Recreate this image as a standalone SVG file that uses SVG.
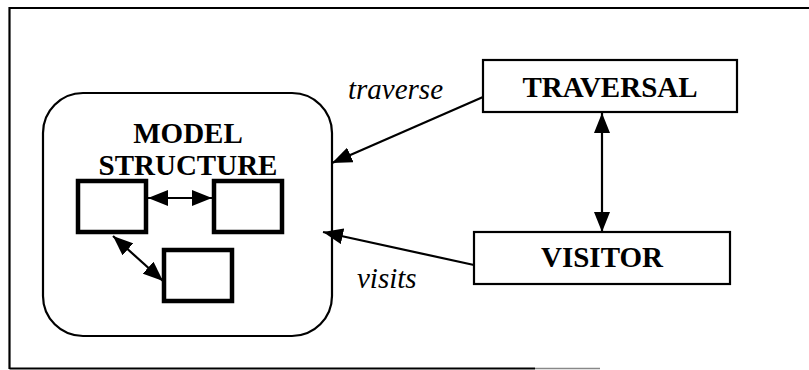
<svg xmlns="http://www.w3.org/2000/svg" width="809" height="370" viewBox="0 0 809 370">
<defs>
<style>
.box{fill:#fff;stroke:#000;stroke-width:2.2}
.small{fill:#fff;stroke:#000;stroke-width:4.5}
.lbl{font-family:"Liberation Serif","Times New Roman",serif;font-weight:bold;font-size:29px;text-anchor:middle;fill:#000}
.it{font-family:"Liberation Serif","Times New Roman",serif;font-style:italic;font-size:29px;fill:#000}
.con{stroke:#000;stroke-width:2.2;fill:none}
</style>
<marker id="ah" viewBox="0 0 20 16" refX="20" refY="8" markerWidth="20" markerHeight="16" markerUnits="userSpaceOnUse" orient="auto-start-reverse">
<path d="M0,0 L20,8 L0,16 z" fill="#000"/>
</marker>
</defs>
<rect width="809" height="370" fill="#fff"/>
<g id="frame" stroke="#000" fill="none">
<path d="M9.5,369 L9.5,8 L809,8" stroke-width="2.2"/>
<path d="M9.5,368.5 L535,368.5" stroke-width="2"/>
<path d="M535,368.5 L600,368.5" stroke="#888" stroke-width="1.5"/>
</g>
<g id="model-structure">
<rect class="box" x="43" y="93" width="289" height="243" rx="40" ry="40"/>
<text class="lbl" x="188" y="143">MODEL</text>
<text class="lbl" x="188" y="175">STRUCTURE</text>
</g>
<g id="element1"><rect class="small" x="78" y="181" width="68" height="51"/></g>
<g id="element2"><rect class="small" x="214" y="181" width="68" height="51"/></g>
<g id="element3"><rect class="small" x="164" y="250" width="68" height="51"/></g>
<g id="traversal">
<rect class="box" x="483" y="60" width="254" height="52"/>
<text class="lbl" x="610" y="97">TRAVERSAL</text>
</g>
<g id="visitor">
<rect class="box" x="474" y="232" width="256" height="52"/>
<text class="lbl" x="602" y="267">VISITOR</text>
</g>
<g id="connectors">
<line class="con" x1="148" y1="198" x2="212" y2="198" marker-start="url(#ah)" marker-end="url(#ah)"/>
<line class="con" x1="113" y1="236" x2="163" y2="281" marker-start="url(#ah)" marker-end="url(#ah)"/>
<line class="con" x1="602" y1="113" x2="602" y2="232" marker-start="url(#ah)" marker-end="url(#ah)"/>
<line class="con" x1="483" y1="97" x2="332" y2="163" marker-end="url(#ah)"/>
<line class="con" x1="474" y1="265" x2="323" y2="232" marker-end="url(#ah)"/>
<text class="it" x="348" y="99">traverse</text>
<text class="it" x="357" y="288">visits</text>
</g>
</svg>
